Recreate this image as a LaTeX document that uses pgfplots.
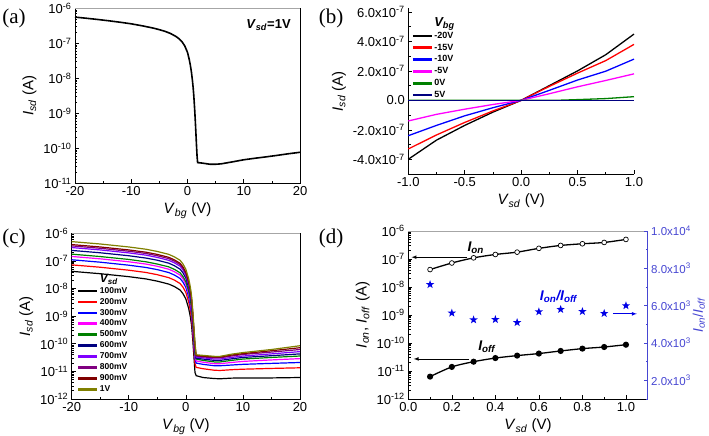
\documentclass[border=0pt]{standalone}
\usepackage{pgfplots}
\pgfplotsset{compat=1.18}
\usepackage{fontspec}
\setmainfont{Liberation Sans}
\newfontfamily\seriffont{Liberation Serif}
\definecolor{cgreen}{RGB}{0,128,0}
\definecolor{cnavy}{RGB}{0,0,128}
\definecolor{cviolet}{RGB}{128,0,255}
\definecolor{cpurple}{RGB}{128,0,128}
\definecolor{cdarkred}{RGB}{128,0,0}
\definecolor{colive}{RGB}{128,128,0}
\definecolor{cmag}{RGB}{255,0,255}
\definecolor{rblue}{RGB}{70,70,210}
\definecolor{sblue}{RGB}{0,0,230}
\newcommand{\tfont}{\fontsize{13}{13}\selectfont}
\newcommand{\lfont}{\fontsize{15}{15}\selectfont}
\pgfdeclareplotmark{fstar}{%
 \pgfpathmoveto{\pgfpointpolar{90}{\pgfplotmarksize}}%
 \pgfpathlineto{\pgfpointpolar{126}{0.4\pgfplotmarksize}}%
 \pgfpathlineto{\pgfpointpolar{162}{\pgfplotmarksize}}%
 \pgfpathlineto{\pgfpointpolar{198}{0.4\pgfplotmarksize}}%
 \pgfpathlineto{\pgfpointpolar{234}{\pgfplotmarksize}}%
 \pgfpathlineto{\pgfpointpolar{270}{0.4\pgfplotmarksize}}%
 \pgfpathlineto{\pgfpointpolar{306}{\pgfplotmarksize}}%
 \pgfpathlineto{\pgfpointpolar{342}{0.4\pgfplotmarksize}}%
 \pgfpathlineto{\pgfpointpolar{18}{\pgfplotmarksize}}%
 \pgfpathlineto{\pgfpointpolar{54}{0.4\pgfplotmarksize}}%
 \pgfpathclose\pgfusepathqfill}
\pgfplotsset{
 panel/.style={scale only axis, anchor=south west, tick align=inside,
  xtick pos=left, ytick pos=left, tick style={black, line width=0.6pt},
  major tick length=4pt, minor tick length=2.2pt, axis line style={line width=0.8pt},
  tick label style={font=\tfont}, label style={font=\lfont}, clip=false,
  scaled ticks=false},
 logminor/.style={minor ytick={2e-12,3e-12,4e-12,5e-12,6e-12,7e-12,8e-12,9e-12,
  2e-11,3e-11,4e-11,5e-11,6e-11,7e-11,8e-11,9e-11,
  2e-10,3e-10,4e-10,5e-10,6e-10,7e-10,8e-10,9e-10,
  2e-9,3e-9,4e-9,5e-9,6e-9,7e-9,8e-9,9e-9,
  2e-8,3e-8,4e-8,5e-8,6e-8,7e-8,8e-8,9e-8,
  2e-7,3e-7,4e-7,5e-7,6e-7,7e-7,8e-7,9e-7}},
 lgline/.style={legend image code/.code={\draw[##1,line width=2.6pt] (0pt,0pt) -- (19pt,0pt);}},
}
\newcommand{\Isd}{\textit{I}\textsubscript{\textit{sd}} (A)}
\begin{document}
\begin{tikzpicture}
\path[use as bounding box] (0,0) rectangle (709pt,436pt);
% panel labels
\node[font=\seriffont\fontsize{21}{21}\selectfont] at (14pt,418pt) {(a)};
\node[font=\seriffont\fontsize{21}{21}\selectfont] at (331pt,418pt) {(b)};
\node[font=\seriffont\fontsize{21}{21}\selectfont] at (14pt,198pt) {(c)};
\node[font=\seriffont\fontsize{21}{21}\selectfont] at (331pt,198pt) {(d)};
% (a)
\begin{axis}[panel, at={(75pt,252.7pt)}, width=225pt, height=175pt,
  ymode=log, xmin=-20, xmax=20, ymin=1e-11, ymax=1e-6,
  xtick={-20,-10,0,10,20}, xticklabels={-20,-10,0,10,20}, minor xtick={-15,-5,5,15},
  ytick={1e-11,1e-10,1e-9,1e-8,1e-7,1e-6},
  yticklabels={10\textsuperscript{-11},10\textsuperscript{-10},10\textsuperscript{-9},10\textsuperscript{-8},10\textsuperscript{-7},10\textsuperscript{-6}},
  logminor,
  xlabel={\textit{V}\textsubscript{\textit{bg}} (V)}, ylabel={\Isd}]
\addplot[black, line width=1.6pt] coordinates {
(-20,5.6e-7) (-18,5.2e-7) (-16,4.8e-7) (-14,4.4e-7) (-12,4.0e-7) (-10,3.6e-7)
(-8,3.15e-7) (-6,2.7e-7) (-5,2.45e-7) (-4,2.2e-7) (-3,1.9e-7) (-2,1.55e-7)
(-1.5,1.35e-7) (-1,1.12e-7) (-0.5,8.5e-8) (0,5.5e-8) (0.3,3.5e-8) (0.5,2.4e-8)
(0.7,1.5e-8) (0.9,8e-9) (1.0,5.5e-9) (1.1,3.5e-9) (1.2,2e-9) (1.3,1.1e-9)
(1.4,5.5e-10) (1.5,2.6e-10) (1.6,1.2e-10) (1.7,6e-11) (1.8,3.9e-11) (2.5,3.8e-11)
(3,3.7e-11) (4,3.5e-11) (5,3.5e-11) (6,3.6e-11) (8,4.1e-11) (10,4.7e-11)
(12,5.2e-11) (14,5.7e-11) (16,6.3e-11) (18,7.0e-11) (20,7.7e-11)};
\draw[gray!70, line width=0.8pt] (rel axis cs:0,1) -- (rel axis cs:1,1);
\node[font=\bfseries\fontsize{13}{13}\selectfont] at (rel axis cs:0.86,0.905) {\textit{V}\textsubscript{\textit{sd}}=1V};
\end{axis}
% (b)
\begin{axis}[panel, at={(408.3pt,262pt)}, width=225.7pt, height=165.7pt,
  axis x line*=bottom, axis y line*=left,
  xmin=-1, xmax=1, ymin=-5e-7, ymax=6.25e-7,
  xtick={-1,-0.5,0,0.5,1}, xticklabels={-1.0,-0.5,0.0,0.5,1.0}, minor xtick={-0.75,-0.25,0.25,0.75},
  ytick={-4e-7,-2e-7,0,2e-7,4e-7,6e-7},
  yticklabels={-4.0x10\textsuperscript{-7},-2.0x10\textsuperscript{-7},0.0,2.0x10\textsuperscript{-7},4.0x10\textsuperscript{-7},6.0x10\textsuperscript{-7}},
  minor ytick={-5e-7,-3e-7,-1e-7,1e-7,3e-7,5e-7},
  xlabel={\textit{V}\textsubscript{\textit{sd}} (V)}, ylabel={\Isd},
  lgline, legend cell align=left,
  legend style={at={(rel axis cs:0.0,0.965)}, anchor=north west, draw=none, fill=none,
   font=\bfseries\fontsize{9}{9}\selectfont, row sep=1.7pt, nodes={inner sep=1.2pt}}]
\addlegendimage{empty legend}
\addlegendentry{\fontsize{13}{13}\selectfont\bfseries\itshape V\textsubscript{bg}}
\addplot[black, line width=1.3pt] coordinates {(-1,-4.0e-7) (-0.75,-2.7e-7) (-0.5,-1.7e-7) (-0.25,-0.8e-7) (0,0) (0.25,1.0e-7) (0.5,2.0e-7) (0.75,3.1e-7) (1,4.5e-7)};
\addlegendentry{-20V}
\addplot[red, line width=1.3pt] coordinates {(-1,-3.3e-7) (-0.75,-2.35e-7) (-0.5,-1.5e-7) (-0.25,-0.72e-7) (0,0) (0.25,0.95e-7) (0.5,1.85e-7) (0.75,2.7e-7) (1,3.8e-7)};
\addlegendentry{-15V}
\addplot[blue, line width=1.3pt] coordinates {(-1,-2.4e-7) (-0.75,-1.7e-7) (-0.5,-1.05e-7) (-0.25,-0.5e-7) (0,0) (0.25,0.68e-7) (0.5,1.38e-7) (0.75,1.98e-7) (1,2.8e-7)};
\addlegendentry{-10V}
\addplot[cmag, line width=1.3pt] coordinates {(-1,-1.4e-7) (-0.75,-0.95e-7) (-0.5,-0.6e-7) (-0.25,-0.28e-7) (0,0) (0.25,0.45e-7) (0.5,0.92e-7) (0.75,1.35e-7) (1,1.8e-7)};
\addlegendentry{-5V}
\addplot[cgreen, line width=1.3pt] coordinates {(-1,0) (0,0) (0.3,0) (0.5,0.05e-7) (0.75,0.12e-7) (1,0.25e-7)};
\addlegendentry{0V}
\addplot[cnavy, line width=1.3pt] coordinates {(-1,0) (1,0)};
\addlegendentry{5V}
\end{axis}
% (c)
\begin{axis}[panel, at={(71.7pt,37pt)}, width=228.3pt, height=165.7pt,
  ymode=log, xmin=-20, xmax=20, ymin=1e-12, ymax=1e-6,
  xtick={-20,-10,0,10,20}, xticklabels={-20,-10,0,10,20}, minor xtick={-15,-5,5,15},
  ytick={1e-12,1e-11,1e-10,1e-9,1e-8,1e-7,1e-6},
  yticklabels={10\textsuperscript{-12},10\textsuperscript{-11},10\textsuperscript{-10},10\textsuperscript{-9},10\textsuperscript{-8},10\textsuperscript{-7},10\textsuperscript{-6}},
  logminor,
  xlabel={\textit{V}\textsubscript{\textit{bg}} (V)}, ylabel={\Isd},
  lgline, legend cell align=left,
  legend style={at={(rel axis cs:0.01,0.775)}, anchor=north west, draw=none, fill=none,
   font=\bfseries\fontsize{8.5}{8.5}\selectfont, row sep=1.1pt, nodes={inner sep=1.2pt}}]
\addlegendimage{empty legend}
\addlegendentry{\fontsize{12}{12}\selectfont\bfseries\itshape V\textsubscript{sd}}
\addplot[black, line width=1.2pt] coordinates {(-20,4.2e-8) (-15,3.44e-8) (-10,2.69e-8) (-7,2.23e-8) (-5,1.85e-8) (-3,1.45e-8) (-2,1.18e-8) (-1,8.8e-9) (-0.5,6.5e-9) (0,4.2e-9) (0.5,1.9e-9) (0.8,9.2e-10) (1.0,4.6e-10) (1.2,1.5e-10) (1.4,3.8e-11) (1.6,9.2e-12) (1.8,7e-12) (3,6e-12) (5,5.5e-12) (6,5.4e-12) (8,5.7e-12) (10,5.8e-12) (15,5.8e-12) (20,6e-12)};
\addlegendentry{100mV}
\addplot[red, line width=1.2pt] coordinates {(-20,7.2e-8) (-15,5.9e-8) (-10,4.61e-8) (-7,3.82e-8) (-5,3.17e-8) (-3,2.48e-8) (-2,2.02e-8) (-1,1.51e-8) (-0.5,1.12e-8) (0,7.2e-9) (0.5,3.24e-9) (0.8,1.58e-9) (1.0,7.9e-10) (1.2,2.6e-10) (1.4,6.5e-11) (1.6,1.9e-11) (1.8,1.4e-11) (3,1.25e-11) (5,1.1e-11) (6,1.08e-11) (8,1.15e-11) (10,1.2e-11) (15,1.28e-11) (20,1.35e-11)};
\addlegendentry{200mV}
\addplot[blue, line width=1.2pt] coordinates {(-20,1.1e-7) (-15,9.0e-8) (-10,7.0e-8) (-7,5.8e-8) (-5,4.84e-8) (-3,3.8e-8) (-2,3.08e-8) (-1,2.31e-8) (-0.5,1.7e-8) (0,1.1e-8) (0.5,4.95e-9) (0.8,2.42e-9) (1.0,1.21e-9) (1.2,4.0e-10) (1.4,9.9e-11) (1.6,2.8e-11) (1.8,2.0e-11) (3,1.8e-11) (5,1.6e-11) (6,1.6e-11) (8,1.7e-11) (10,1.8e-11) (15,1.95e-11) (20,2.1e-11)};
\addlegendentry{300mV}
\addplot[cmag, line width=1.2pt] coordinates {(-20,1.45e-7) (-15,1.19e-7) (-10,9.3e-8) (-7,7.7e-8) (-5,6.4e-8) (-3,5.0e-8) (-2,4.06e-8) (-1,3.05e-8) (-0.5,2.25e-8) (0,1.45e-8) (0.5,6.5e-9) (0.8,3.19e-9) (1.0,1.6e-9) (1.2,5.2e-10) (1.4,1.3e-10) (1.6,3.5e-11) (1.8,2.4e-11) (3,2.15e-11) (5,1.9e-11) (6,1.9e-11) (8,2.1e-11) (10,2.3e-11) (15,2.6e-11) (20,2.9e-11)};
\addlegendentry{400mV}
\addplot[cgreen, line width=1.2pt] coordinates {(-20,1.76e-7) (-15,1.44e-7) (-10,1.13e-7) (-7,9.3e-8) (-5,7.7e-8) (-3,6.1e-8) (-2,4.93e-8) (-1,3.7e-8) (-0.5,2.73e-8) (0,1.76e-8) (0.5,7.9e-9) (0.8,3.87e-9) (1.0,1.94e-9) (1.2,6.3e-10) (1.4,1.58e-10) (1.6,4.2e-11) (1.8,2.8e-11) (3,2.5e-11) (5,2.2e-11) (6,2.2e-11) (8,2.5e-11) (10,2.8e-11) (15,3.2e-11) (20,3.6e-11)};
\addlegendentry{500mV}
\addplot[cnavy, line width=1.2pt] coordinates {(-20,2.4e-7) (-15,1.97e-7) (-10,1.54e-7) (-7,1.27e-7) (-5,1.06e-7) (-3,8.3e-8) (-2,6.7e-8) (-1,5.0e-8) (-0.5,3.7e-8) (0,2.4e-8) (0.5,1.08e-8) (0.8,5.3e-9) (1.0,2.64e-9) (1.2,8.6e-10) (1.4,2.16e-10) (1.6,5.5e-11) (1.8,3.0e-11) (3,2.8e-11) (5,2.5e-11) (6,2.5e-11) (8,2.85e-11) (10,3.2e-11) (15,3.7e-11) (20,4.3e-11)};
\addlegendentry{600mV}
\addplot[cviolet, line width=1.2pt] coordinates {(-20,3.05e-7) (-15,2.5e-7) (-10,1.95e-7) (-7,1.62e-7) (-5,1.34e-7) (-3,1.05e-7) (-2,8.5e-8) (-1,6.4e-8) (-0.5,4.7e-8) (0,3.05e-8) (0.5,1.37e-8) (0.8,6.7e-9) (1.0,3.36e-9) (1.2,1.1e-9) (1.4,2.75e-10) (1.6,6.7e-11) (1.8,3.3e-11) (3,3.1e-11) (5,2.8e-11) (6,2.8e-11) (8,3.2e-11) (10,3.6e-11) (15,4.3e-11) (20,5.2e-11)};
\addlegendentry{700mV}
\addplot[cpurple, line width=1.2pt] coordinates {(-20,3.5e-7) (-15,2.87e-7) (-10,2.24e-7) (-7,1.86e-7) (-5,1.54e-7) (-3,1.21e-7) (-2,9.8e-8) (-1,7.35e-8) (-0.5,5.4e-8) (0,3.5e-8) (0.5,1.58e-8) (0.8,7.7e-9) (1.0,3.85e-9) (1.2,1.26e-9) (1.4,3.15e-10) (1.6,7.7e-11) (1.8,3.6e-11) (3,3.35e-11) (5,3.1e-11) (6,3.1e-11) (8,3.6e-11) (10,4.1e-11) (15,5.0e-11) (20,6.2e-11)};
\addlegendentry{800mV}
\addplot[cdarkred, line width=1.2pt] coordinates {(-20,3.9e-7) (-15,3.2e-7) (-10,2.5e-7) (-7,2.07e-7) (-5,1.72e-7) (-3,1.35e-7) (-2,1.09e-7) (-1,8.2e-8) (-0.5,6.0e-8) (0,3.9e-8) (0.5,1.76e-8) (0.8,8.6e-9) (1.0,4.3e-9) (1.2,1.4e-9) (1.4,3.5e-10) (1.6,8.6e-11) (1.8,3.8e-11) (3,3.55e-11) (5,3.3e-11) (6,3.3e-11) (8,3.9e-11) (10,4.4e-11) (15,5.6e-11) (20,7.2e-11)};
\addlegendentry{900mV}
\addplot[colive, line width=1.2pt] coordinates {(-20,5.0e-7) (-15,4.1e-7) (-10,3.2e-7) (-7,2.65e-7) (-5,2.2e-7) (-3,1.73e-7) (-2,1.4e-7) (-1,1.05e-7) (-0.5,7.75e-8) (0,5.0e-8) (0.5,2.25e-8) (0.8,1.1e-8) (1.0,5.5e-9) (1.2,1.8e-9) (1.4,4.5e-10) (1.6,1.1e-10) (1.8,4.0e-11) (3,3.8e-11) (5,3.5e-11) (6,3.5e-11) (8,4.2e-11) (10,4.8e-11) (15,6.2e-11) (20,8.5e-11)};
\addlegendentry{1V}
\draw[gray!70, line width=0.8pt] (rel axis cs:0,1) -- (rel axis cs:1,1);
\end{axis}
% (d) left
\begin{axis}[panel, at={(408.3pt,37pt)}, width=239.4pt, height=168pt,
  axis x line*=bottom, axis y line*=left,
  ymode=log, xmin=0, xmax=1.1, ymin=1e-12, ymax=1e-6,
  xtick={0,0.2,0.4,0.6,0.8,1.0}, xticklabels={0.0,0.2,0.4,0.6,0.8,1.0}, minor xtick={0.1,0.3,0.5,0.7,0.9},
  ytick={1e-12,1e-11,1e-10,1e-9,1e-8,1e-7,1e-6},
  yticklabels={10\textsuperscript{-12},10\textsuperscript{-11},10\textsuperscript{-10},10\textsuperscript{-9},10\textsuperscript{-8},10\textsuperscript{-7},10\textsuperscript{-6}},
  logminor,
  xlabel={\textit{V}\textsubscript{\textit{sd}} (V)},
  ylabel={\textit{I}\textsubscript{\textit{on}}, \textit{I}\textsubscript{\textit{off}} (A)}]
\addplot[black, line width=1.3pt, smooth, mark=*, mark size=2.4pt, mark options={fill=white, line width=0.7pt}] coordinates {
(0.1,4.2e-8) (0.2,7.2e-8) (0.3,1.1e-7) (0.4,1.45e-7) (0.5,1.76e-7) (0.6,2.4e-7) (0.7,3.05e-7) (0.8,3.5e-7) (0.9,3.9e-7) (1.0,5.0e-7)};
\addplot[black, line width=1.3pt, smooth, mark=*, mark size=2.4pt] coordinates {
(0.1,6.3e-12) (0.2,1.4e-11) (0.3,2.15e-11) (0.4,2.9e-11) (0.5,3.55e-11) (0.6,4.2e-11) (0.7,5.2e-11) (0.8,6.3e-11) (0.9,7.2e-11) (1.0,8.7e-11)};
\draw[gray!70, line width=0.8pt] (rel axis cs:0,1) -- (rel axis cs:1,1);
\draw[black, line width=0.7pt, ->, >=latex] (axis cs:0.27,1.16e-7) -- (axis cs:0.015,1.16e-7);
\draw[black, line width=0.7pt, ->, >=latex] (axis cs:0.28,2.7e-11) -- (axis cs:0.025,2.7e-11);
\draw[sblue, line width=0.7pt, ->, >=latex] (axis cs:0.94,1.1e-9) -- (axis cs:1.05,1.1e-9);
\node[font=\bfseries\itshape\fontsize{14}{14}\selectfont] at (axis cs:0.31,2.6e-7) {I\textsubscript{on}};
\node[font=\bfseries\itshape\fontsize{14}{14}\selectfont] at (axis cs:0.36,7.2e-11) {I\textsubscript{off}};
\node[font=\bfseries\itshape\fontsize{14}{14}\selectfont, text=sblue] at (axis cs:0.69,4.6e-9) {I\textsubscript{on}/I\textsubscript{off}};
\end{axis}
% (d) right
\begin{axis}[panel, at={(408.3pt,37pt)}, width=239.4pt, height=168pt,
  axis x line=none, axis y line*=right, ytick pos=right,
  xmin=0, xmax=1.1, ymin=1000, ymax=10000,
  ytick={2000,4000,6000,8000,10000},
  yticklabels={2.0x10\textsuperscript{3},4.0x10\textsuperscript{3},6.0x10\textsuperscript{3},8.0x10\textsuperscript{3},1.0x10\textsuperscript{4}},
  minor ytick={1000,3000,5000,7000,9000},
  y axis line style={rblue, line width=0.8pt}, ytick style={rblue},
  yticklabel style={text=rblue, font=\fontsize{11.5}{11.5}\selectfont},
  ylabel={\textit{I}\textsubscript{\textit{on}}/\textit{I}\textsubscript{\textit{off}}},
  ylabel style={text=rblue, font=\fontsize{14}{14}\selectfont}, ylabel shift=-5pt]
\addplot[only marks, sblue, mark=fstar, mark size=4.4pt] coordinates {
(0.1,7135) (0.2,5605) (0.3,5243) (0.4,5260) (0.5,5097) (0.6,5676) (0.7,5800) (0.8,5690) (0.9,5585) (1.0,6000)};
\end{axis}
\end{tikzpicture}
\end{document}
